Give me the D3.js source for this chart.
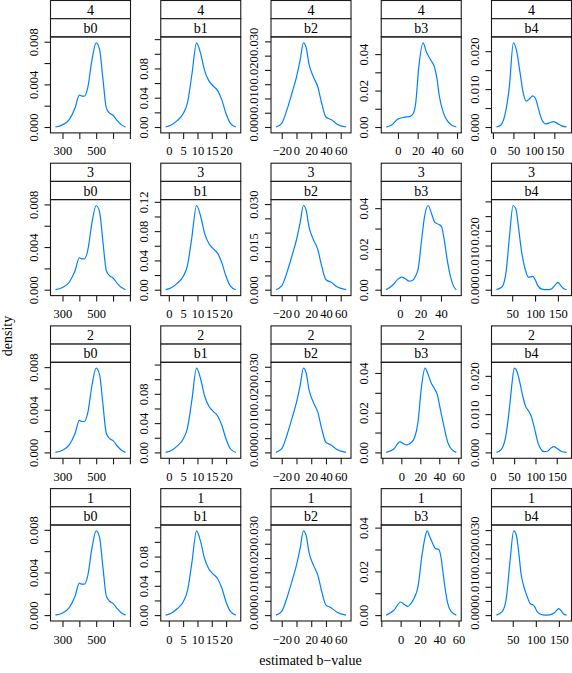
<!DOCTYPE html>
<html><head><meta charset="utf-8">
<script src="https://cdn.jsdelivr.net/npm/d3@7"></script>
<style>
body{margin:0;background:#fff}
svg{display:block}
text{font-family:"Liberation Serif","Times New Roman",serif;fill:#000}
</style>
</head><body>
<svg id="chart" width="572" height="673"></svg>
<script>
// ---- data ----
const conditions = ["4", "3", "2", "1"];
const variables = ["b0", "b1", "b2", "b3", "b4"];

// density curves as [estimated b-value, density]
const b0Curve = [[258,0],[300,0.0002],[340,0.0007],[375,0.0018],[400,0.0030],[415,0.0029],[430,0.0029],[450,0.0037],[475,0.0063],[500,0.0079],[520,0.0073],[540,0.0045],[560,0.0018],[580,0.0013],[600,0.0011],[625,0.0006],[650,0.0002],[674.5,0]];
const b1Curve = [[-1.1,0],[1,0.003],[3,0.009],[5,0.018],[6.5,0.033],[8,0.07],[9.7,0.115],[11,0.102],[12.5,0.077],[14,0.063],[15.5,0.056],[17,0.05],[18.5,0.037],[20,0.018],[21.5,0.005],[23.4,0]];
const b2Curve = [[-27.9,0],[-20,0.0013],[-13,0.006],[-6,0.012],[0,0.0175],[5,0.0235],[9.5,0.0295],[13,0.028],[17,0.022],[23,0.0175],[29,0.014],[34,0.0085],[40,0.0035],[47,0.0026],[55,0.001],[67.3,0]];
const b3Cond4 = [[-12,0],[-6,0.0013],[0,0.0044],[7,0.0054],[13,0.006],[16,0.008],[18,0.013],[21,0.032],[25.5,0.0462],[29,0.041],[33,0.037],[37,0.033],[39.5,0.027],[42,0.017],[46,0.008],[50,0.0035],[54,0.0012],[59.3,0]];
const b3Cond3 = [[-13.5,0],[-7,0.0023],[-2,0.0052],[1.5,0.0062],[5,0.0055],[9,0.0042],[12,0.0045],[15,0.0065],[18,0.011],[21,0.024],[24,0.036],[27.5,0.0413],[31,0.037],[34,0.033],[38,0.032],[40.5,0.031],[43,0.025],[46,0.015],[49,0.007],[52,0.002],[55,0]];
const b3Cond2 = [[-16,0],[-8,0.0017],[-1.5,0.0053],[3,0.0042],[6,0.0038],[10,0.0048],[14,0.0075],[17.5,0.015],[21,0.032],[25,0.0424],[28,0.0395],[31,0.0355],[35,0.032],[38,0.029],[41,0.022],[45,0.013],[49,0.005],[53,0.0015],[58,0]];
const b3Cond1 = [[-15,0],[-7,0.0022],[0,0.006],[4,0.0048],[7.5,0.004],[11,0.0055],[14,0.0078],[18,0.013],[22,0.027],[25,0.035],[27.5,0.0385],[30,0.036],[33,0.033],[36,0.0305],[39.5,0.030],[42,0.026],[44,0.019],[46.5,0.011],[49,0.005],[52,0.0018],[57.7,0]];
const b4Cond4 = [[8.5,0],[20,0.0006],[30,0.0035],[40,0.0105],[50,0.0222],[58,0.0200],[66,0.0145],[74,0.009],[82,0.0068],[90,0.0075],[97,0.0082],[104,0.0075],[112,0.0045],[120,0.0018],[130,0.0008],[140,0.0012],[148,0.0014],[158,0.0009],[168,0.0003],[180,0]];
const b4Cond3 = [[15.5,0],[28,0.001],[37,0.0065],[44,0.018],[52,0.0286],[58,0.0275],[64,0.021],[70,0.0135],[78,0.0072],[86,0.0042],[95,0.0045],[100,0.0035],[106,0.0014],[115,0.0002],[125,0],[135,0.0002],[143,0.0014],[150,0.0025],[157,0.0012],[163,0.0003],[169,0]];
const b4Cond2 = [[8.5,0],[20,0.0008],[30,0.004],[40,0.0125],[45,0.018],[50.5,0.022],[57,0.021],[63,0.0185],[70,0.0148],[77,0.012],[84,0.0108],[90,0.0095],[95,0.0075],[100,0.0052],[106,0.0025],[112,0.001],[120,0.0002],[128,0.0003],[137,0.0012],[143,0.0015],[150,0.0011],[160,0.0003],[173,0]];
const b4Cond1 = [[14.5,0],[27,0.0012],[36,0.006],[44,0.019],[52,0.0297],[58,0.028],[63,0.022],[68,0.0145],[75,0.0095],[82,0.0062],[88,0.004],[94,0.0036],[98,0.0028],[103,0.0012],[110,0.0003],[120,0],[130,0.0001],[140,0.0008],[146,0.0018],[150,0.0023],[155,0.0015],[160,0.0005],[166.7,0]];

// x ticks (all candidate marks) and which of them carry labels
const xTickValues = {b0:[300,400,500,600,700], b1:[0,5,10,15,20], b2:[-20,0,20,40,60], b3:[-20,0,20,40,60], b4:[0,50,100,150]};
const xTickLabels = {
  "4": {b0:["300","500"], b1:["0","5","10","15","20"], b2:["−20","0","20","40","60"], b3:["0","20","40","60"], b4:["0","50","100","150"]},
  "3": {b0:["300","500"], b1:["0","5","10","15","20"], b2:["−20","0","20","40","60"], b3:["0","20","40"], b4:["50","100","150"]},
  "2": {b0:["300","500"], b1:["0","5","10","15","20"], b2:["−20","0","20","40","60"], b3:["0","20","40","60"], b4:["0","50","100","150"]},
  "1": {b0:["300","500"], b1:["0","5","10","15","20"], b2:["−20","0","20","40","60"], b3:["0","20","40","60"], b4:["50","100","150"]}
};
// y ticks and labels
const yTickValues = {b0:[0,0.002,0.004,0.006,0.008], b1:[0,0.02,0.04,0.06,0.08,0.10,0.12], b2:[0,0.005,0.010,0.015,0.020,0.025,0.030], b3:[0,0.01,0.02,0.03,0.04], b4:[0,0.005,0.010,0.015,0.020,0.025,0.030]};
const yTickLabels = {
  "4": {b0:["0.000","0.004","0.008"], b1:["0.00","0.04","0.08"], b2:["0.000","0.010","0.020","0.030"], b3:["0.00","0.02","0.04"], b4:["0.000","0.010","0.020"]},
  "3": {b0:["0.000","0.004","0.008"], b1:["0.00","0.04","0.08","0.12"], b2:["0.000","0.015","0.030"], b3:["0.00","0.02","0.04"], b4:["0.000","0.010","0.020"]},
  "2": {b0:["0.000","0.004","0.008"], b1:["0.00","0.04","0.08"], b2:["0.000","0.010","0.020","0.030"], b3:["0.00","0.02","0.04"], b4:["0.000","0.010","0.020"]},
  "1": {b0:["0.000","0.004","0.008"], b1:["0.00","0.04","0.08"], b2:["0.000","0.010","0.020","0.030"], b3:["0.00","0.02","0.04"], b4:["0.000","0.010","0.020","0.030"]}
};
const xTitle = "estimated b−value";
const yTitle = "density";

const curves = {
  "4": {b0:b0Curve, b1:b1Curve, b2:b2Curve, b3:b3Cond4, b4:b4Cond4},
  "3": {b0:b0Curve, b1:b1Curve, b2:b2Curve, b3:b3Cond3, b4:b4Cond3},
  "2": {b0:b0Curve, b1:b1Curve, b2:b2Curve, b3:b3Cond2, b4:b4Cond2},
  "1": {b0:b0Curve, b1:b1Curve, b2:b2Curve, b3:b3Cond1, b4:b4Cond1}
};

// ---- layout ----
const svg = d3.select("#chart");
const W = 80, H = 96, stripH = 18.2;
const colX = j => 50.5 + j * 110.25;
const rowY = i => 0.5 + i * 162.7;
const border = "#1a1a1a";
const lineColor = "#0080ff";

function labelFor(list, v) {
  const s = list.find(t => Math.abs(parseFloat(t.replace("−", "-")) - v) < 1e-9);
  return s === undefined ? "" : s;
}

conditions.forEach((cond, i) => {
  variables.forEach((v, j) => {
    const data = curves[cond][v];
    const left = colX(j), top = rowY(i);
    const ptop = top + 2 * stripH, pbot = ptop + H;
    const [x0, x1] = d3.extent(data, d => d[0]);
    const r = x1 - x0;
    const x = d3.scaleLinear().domain([x0 - 0.07 * r, x1 + 0.07 * r]).range([left, left + W]);
    const m = d3.max(data, d => d[1]);
    const y = d3.scaleLinear().domain([-0.07 * m, 1.07 * m]).range([pbot, ptop]);
    const g = svg.append("g");

    // strips
    [cond, v].forEach((s, k) => {
      g.append("rect").attr("x", left).attr("y", top + k * stripH).attr("width", W).attr("height", stripH)
        .attr("fill", "#fff").attr("stroke", border).attr("stroke-width", 1.1);
      g.append("text").attr("x", left + W / 2).attr("y", top + k * stripH + stripH / 2)
        .attr("dy", "0.36em").attr("text-anchor", "middle").attr("font-size", 14).text(s);
    });

    // panel border
    g.append("rect").attr("x", left).attr("y", ptop).attr("width", W).attr("height", H)
      .attr("fill", "none").attr("stroke", border).attr("stroke-width", 1.1);

    // density line
    const line = d3.line().x(d => x(d[0])).y(d => y(d[1])).curve(d3.curveMonotoneX);
    g.append("path").datum(data).attr("d", line).attr("fill", "none")
      .attr("stroke", lineColor).attr("stroke-width", 1.2);

    // x axis
    const xd = x.domain();
    const xt = xTickValues[v].filter(t => t >= xd[0] && t <= xd[1]);
    const xa = g.append("g").attr("transform", `translate(0,${pbot})`)
      .call(d3.axisBottom(x).tickValues(xt).tickSize(6).tickSizeOuter(0)
        .tickFormat(t => labelFor(xTickLabels[cond][v], t)));
    xa.select(".domain").remove();
    xa.selectAll("line").attr("stroke", border).attr("stroke-width", 1.1);
    xa.selectAll("text").attr("y", 22.5).attr("dy", 0).attr("font-size", 12.5)
      .attr("font-family", "Liberation Serif").attr("fill", "#000");

    // y axis
    const yd = y.domain();
    const yt = yTickValues[v].filter(t => t >= yd[0] - 1e-12 && t <= yd[1]);
    const ya = g.append("g").attr("transform", `translate(${left},0)`)
      .call(d3.axisLeft(y).tickValues(yt).tickSize(6).tickSizeOuter(0)
        .tickFormat(t => labelFor(yTickLabels[cond][v], t)));
    ya.select(".domain").remove();
    ya.selectAll("line").attr("stroke", border).attr("stroke-width", 1.1);
    ya.selectAll("text").attr("x", 0).attr("y", -13).attr("dy", 0)
      .attr("transform", "rotate(-90)").attr("text-anchor", "middle")
      .attr("font-size", 12.5).attr("font-family", "Liberation Serif").attr("fill", "#000");
  });
});

// axis titles
svg.append("text").attr("x", 310.5).attr("y", 665).attr("text-anchor", "middle")
  .attr("font-size", 14).text(xTitle);
svg.append("text").attr("transform", "translate(12,336) rotate(-90)").attr("text-anchor", "middle")
  .attr("font-size", 14).text(yTitle);
</script>
</body></html>
